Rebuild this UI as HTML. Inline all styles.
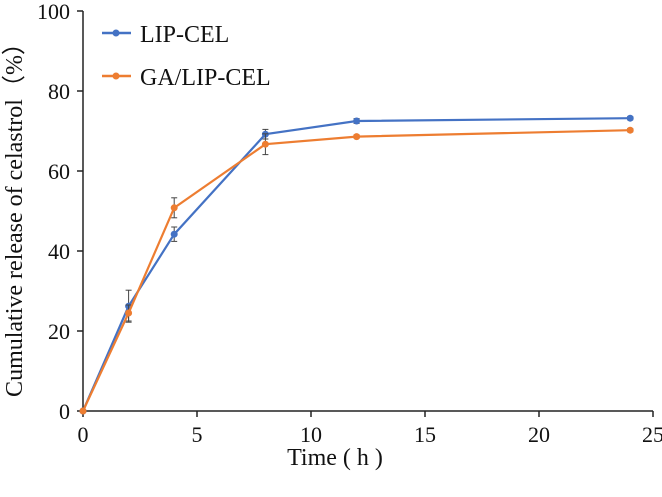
<!DOCTYPE html>
<html><head><meta charset="utf-8"><style>
body{margin:0;background:#fff;}
svg text{font-family:"Liberation Serif",serif;fill:#111;}
</style></head><body>
<svg width="662" height="492">
<g id="axes"></g><g id="series"></g>
<g>
<line x1="102" y1="33" x2="131" y2="33" stroke="#4472C4" stroke-width="2.5"/>
<circle cx="116" cy="33" r="3.5" fill="#4472C4"/>
<text x="140" y="42" font-size="24">LIP-CEL</text>
<line x1="102" y1="76" x2="131" y2="76" stroke="#ED7D31" stroke-width="2.5"/>
<circle cx="116" cy="76" r="3.5" fill="#ED7D31"/>
<text x="140" y="85" font-size="24">GA/LIP-CEL</text>
</g>
<text x="335" y="465" font-size="24" text-anchor="middle">Time ( h )</text>
<text transform="translate(22,214) rotate(-90)" font-size="24" text-anchor="middle">Cumulative release of celastrol（%）</text>
</svg>
<script>
const times=[0,2,4,8,12,24];
const lipVals=[0,26.2,44.2,69.2,72.5,73.2];
const lipErr=[0,4,1.8,1.2,0.6,0.4];
const gaVals=[0,24.5,50.8,66.7,68.6,70.2];
const gaErr=[0,2,2.5,2.6,0.4,0.4];
const xTicks=[0,5,10,15,20,25];
const yTicks=[0,20,40,60,80,100];
const NS="http://www.w3.org/2000/svg";
const X=v=>83+v*(570/25);
const Y=v=>411-v*4;
function mk(tag,attrs,parent){const e=document.createElementNS(NS,tag);for(const k in attrs)e.setAttribute(k,attrs[k]);parent.appendChild(e);return e;}
const ax=document.getElementById('axes');
const xa=mk('line',{x1:83,y1:411,x2:653,y2:411,stroke:'#222','stroke-width':1.5},ax);


const ya=mk('line',{x1:83,y1:11,x2:83,y2:411,stroke:'#222','stroke-width':1.5},ax);


xTicks.forEach(t=>{mk('line',{x1:X(t),y1:411,x2:X(t),y2:417,stroke:'#222','stroke-width':1.5},ax);
const tx=mk('text',{x:X(t),y:442,'font-size':22,'text-anchor':'middle'},ax);tx.textContent=t;

});
yTicks.forEach(t=>{mk('line',{x1:77,y1:Y(t),x2:83,y2:Y(t),stroke:'#222','stroke-width':1.5},ax);
const tx=mk('text',{x:70,y:Y(t)+8,'font-size':22,'text-anchor':'end'},ax);tx.textContent=t;

});
const sg=document.getElementById('series');
function series(vals,err,color,name){
const g=mk('g',{},sg);


vals.forEach((v,i)=>{if(err[i]>0){const x=X(times[i]);
mk('line',{x1:x,y1:Y(v+err[i]),x2:x,y2:Y(v-err[i]),stroke:'#444','stroke-width':1},g);
mk('line',{x1:x-3,y1:Y(v+err[i]),x2:x+3,y2:Y(v+err[i]),stroke:'#444','stroke-width':1},g);
mk('line',{x1:x-3,y1:Y(v-err[i]),x2:x+3,y2:Y(v-err[i]),stroke:'#444','stroke-width':1},g);}});
mk('polyline',{points:vals.map((v,i)=>X(times[i])+','+Y(v)).join(' '),fill:'none',stroke:color,'stroke-width':2.2},g);
vals.forEach((v,i)=>{const c=mk('circle',{cx:X(times[i]),cy:Y(v),r:3.5,fill:color},g);

});
}
series(lipVals,lipErr,'#4472C4','series-lip-cel');
series(gaVals,gaErr,'#ED7D31','series-ga-lip-cel');
</script>
</body></html>
